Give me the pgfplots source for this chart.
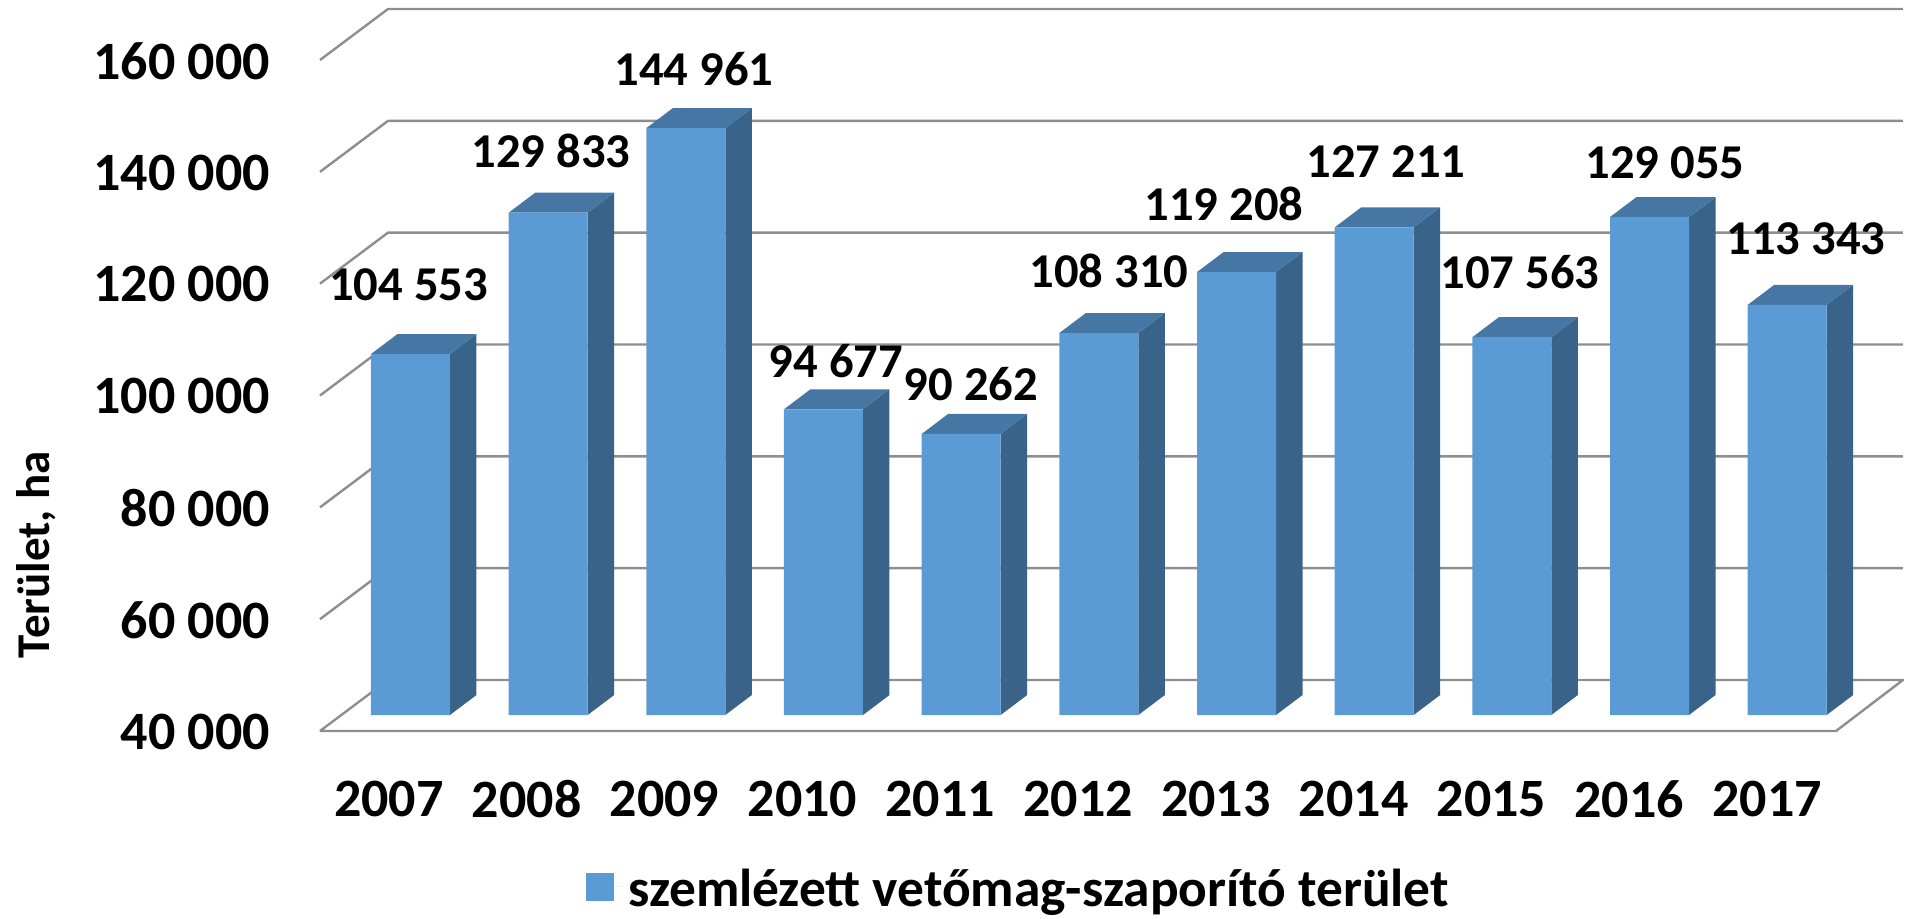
\documentclass[border=0pt]{standalone}
\usepackage{pgfplots}
\usepackage{fontspec}
\setmainfont{Carlito}
\pgfplotsset{compat=1.18}
\definecolor{frontc}{HTML}{5B9BD5}
\definecolor{sidec}{HTML}{3A6389}
\definecolor{topc}{HTML}{4676A3}
\definecolor{gridc}{HTML}{8E8E8E}
\pgfplotsset{
 gl/.style={draw=gridc,line width=1.2pt,no marks,line join=round},
 sd/.style={fill=sidec,draw=none,no marks,yshift=8pt,forget plot},
 tp/.style={fill=topc,draw=none,no marks,yshift=8pt,forget plot},
}
\begin{document}
\begin{tikzpicture}
\useasboundingbox (0,0) rectangle (956.5pt,459pt);
\begin{axis}[
 at={(160pt,93.5pt)},anchor=south west,
 scale only axis,width=758pt,height=335.5pt,
 clip=false,
 axis line style={draw=none},
 xmin=0,xmax=11,ymin=40000,ymax=160000,
 major tick length=0pt,
 xtick={0.5,1.5,2.5,3.5,4.5,5.5,6.5,7.5,8.5,9.5,10.5},
 xticklabels={2007,2008,2009,2010,2011,2012,2013,2014,2015,2016,2017},
 ytick={40000,60000,80000,100000,120000,140000,160000},
 scaled y ticks=false,
 /pgf/number format/fixed,
 /pgf/number format/precision=0,
 /pgf/number format/assume math mode=true,
 /pgf/number format/1000 sep={\ },
 yticklabel style={anchor=east,font=\bfseries\fontsize{27}{27}\selectfont,xshift=-21.5pt,yshift=-0.4pt,
   /pgf/number format/fixed,/pgf/number format/precision=0,/pgf/number format/assume math mode=true,/pgf/number format/1000 sep={\ }},
 xticklabel style={anchor=center,font=\bfseries\fontsize{27}{27}\selectfont,yshift=-34pt},
 ylabel={Terület, ha},
 every axis y label/.style={at={(axis description cs:-0.1872,0.263)},rotate=90,anchor=center,font=\bfseries\fontsize{23.5}{23.5}\selectfont},
 legend style={at={(0.1755,-0.2399)},anchor=west,draw=none,fill=none,font=\bfseries\fontsize{26.7}{26.7}\selectfont,inner sep=0pt,outer sep=0pt,row sep=0pt,yshift=1.5pt},
 legend image code/.code={\fill[frontc] (0pt,-14pt) rectangle (14pt,0pt);\path (0pt,-7pt) -- (19pt,-7pt);},
 legend cell align=left,
]
% gridlines (floor and walls)
\addplot[gl,forget plot] coordinates {(0,40000)(0.4935,49121)(11.486,49121)(11,40000)(0,40000)};
\addplot[gl,forget plot] coordinates {(0,60000)(0.4935,69121)(11.486,69121)};
\addplot[gl,forget plot] coordinates {(0,80000)(0.4935,89121)(11.486,89121)};
\addplot[gl,forget plot] coordinates {(0,100000)(0.4935,109121)(11.486,109121)};
\addplot[gl,forget plot] coordinates {(0,120000)(0.4935,129121)(11.486,129121)};
\addplot[gl,forget plot] coordinates {(0,140000)(0.4935,149121)(11.486,149121)};
\addplot[gl,forget plot] coordinates {(0,160000)(0.4935,169121)(11.486,169121)};
% side faces
\addplot[sd] coordinates {(.9432,40000)(1.1355,43577)(1.1355,108130)(.9432,104553)} --cycle;
\addplot[sd] coordinates {(1.9421,40000)(2.1344,43577)(2.1344,133410)(1.9421,129833)} --cycle;
\addplot[sd] coordinates {(2.9410,40000)(3.1333,43577)(3.1333,148538)(2.9410,144961)} --cycle;
\addplot[sd] coordinates {(3.9399,40000)(4.1322,43577)(4.1322,98254)(3.9399,94677)} --cycle;
\addplot[sd] coordinates {(4.9388,40000)(5.1311,43577)(5.1311,93839)(4.9388,90262)} --cycle;
\addplot[sd] coordinates {(5.9378,40000)(6.1301,43577)(6.1301,111887)(5.9378,108310)} --cycle;
\addplot[sd] coordinates {(6.9367,40000)(7.1290,43577)(7.1290,122785)(6.9367,119208)} --cycle;
\addplot[sd] coordinates {(7.9356,40000)(8.1279,43577)(8.1279,130788)(7.9356,127211)} --cycle;
\addplot[sd] coordinates {(8.9345,40000)(9.1268,43577)(9.1268,111140)(8.9345,107563)} --cycle;
\addplot[sd] coordinates {(9.9334,40000)(10.1257,43577)(10.1257,132632)(9.9334,129055)} --cycle;
\addplot[sd] coordinates {(10.9323,40000)(11.1246,43577)(11.1246,116920)(10.9323,113343)} --cycle;
% top faces
\addplot[tp] coordinates {(.3700,104553)(.9432,104553)(1.1355,108130)(.5623,108130)} --cycle;
\addplot[tp] coordinates {(1.3689,129833)(1.9421,129833)(2.1344,133410)(1.5612,133410)} --cycle;
\addplot[tp] coordinates {(2.3678,144961)(2.9410,144961)(3.1333,148538)(2.5601,148538)} --cycle;
\addplot[tp] coordinates {(3.3667,94677)(3.9399,94677)(4.1322,98254)(3.5590,98254)} --cycle;
\addplot[tp] coordinates {(4.3656,90262)(4.9388,90262)(5.1311,93839)(4.5579,93839)} --cycle;
\addplot[tp] coordinates {(5.3646,108310)(5.9378,108310)(6.1301,111887)(5.5569,111887)} --cycle;
\addplot[tp] coordinates {(6.3635,119208)(6.9367,119208)(7.1290,122785)(6.5558,122785)} --cycle;
\addplot[tp] coordinates {(7.3624,127211)(7.9356,127211)(8.1279,130788)(7.5547,130788)} --cycle;
\addplot[tp] coordinates {(8.3613,107563)(8.9345,107563)(9.1268,111140)(8.5536,111140)} --cycle;
\addplot[tp] coordinates {(9.3602,129055)(9.9334,129055)(10.1257,132632)(9.5525,132632)} --cycle;
\addplot[tp] coordinates {(10.3591,113343)(10.9323,113343)(11.1246,116920)(10.5514,116920)} --cycle;
% front faces
\addplot[ybar,bar width=39.5pt,bar shift=0pt,fill=frontc,draw=none,yshift=8pt] coordinates {
(.6566,104553)(1.6555,129833)(2.6544,144961)(3.6533,94677)(4.6522,90262)(5.6512,108310)
(6.6501,119208)(7.6490,127211)(8.6479,107563)(9.6468,129055)(10.6457,113343)};
\addlegendentry{szemlézett vetőmag-szaporító terület}
% value labels
\addplot[only marks,mark=none,forget plot,point meta=explicit,
 nodes near coords,
 nodes near coords style={anchor=center,inner sep=0pt,font=\bfseries\fontsize{24.3}{24.3}\selectfont,text=black,
   /pgf/number format/fixed,/pgf/number format/precision=0,/pgf/number format/assume math mode=true,/pgf/number format/1000 sep={\ }}]
 table[x=lx,y=ly,meta=v] {
lx ly v
0.6436 119900 104553
1.676 143700 129833
2.714 158350 144961
3.744 106130 94677
4.723 102020 90262
5.725 122230 108310
6.559 134210 119208
7.735 141900 127211
8.707 122050 107563
9.759 141540 129055
10.782 127950 113343
};
\end{axis}
\end{tikzpicture}
\end{document}
